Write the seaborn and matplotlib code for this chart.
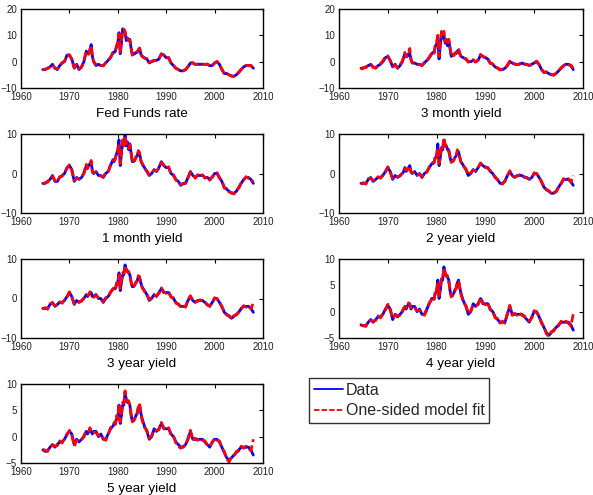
import matplotlib
matplotlib.use("Agg")
import matplotlib.pyplot as plt
import seaborn as sns
import numpy as np

# Time points (years)
years = [1964.5, 1965, 1965.5, 1966, 1966.5, 1967, 1967.5, 1968, 1968.5, 1969, 1969.5, 1970, 1970.5, 1971, 1971.5, 1972, 1972.5, 1973,
         1973.25, 1973.5, 1973.75, 1974, 1974.25, 1974.5, 1974.75, 1975,
         1975.5, 1976, 1976.5, 1977, 1977.5, 1978, 1978.5, 1979,
         1979.25, 1979.5, 1979.75, 1980, 1980.25, 1980.5, 1980.75, 1981, 1981.25, 1981.5, 1981.75, 1982,
         1982.25, 1982.5, 1982.75, 1983, 1983.25, 1983.5, 1983.75, 1984, 1984.25, 1984.5, 1984.75, 1985,
         1985.5, 1986, 1986.5, 1987, 1987.5, 1988, 1988.5, 1989, 1989.5, 1990, 1990.5, 1991, 1991.5, 1992, 1992.5, 1993,
         1993.5, 1994, 1994.5, 1995, 1995.5, 1996, 1996.5, 1997, 1997.5, 1998, 1998.5, 1999, 1999.5, 2000, 2000.5, 2001,
         2001.5, 2002, 2002.5, 2003, 2003.5, 2004, 2004.5, 2005, 2005.5, 2006, 2006.5, 2007, 2007.5, 2008]

fed_data = [-3, -3, -2.5, -2, -1, -2.5, -3, -1.5, -0.5, 0, 2.5, 2.5, 1, -2.5, -1, -3, -2, 0,
            2, 4, 3, 3, 4.5, 6.5, 2, 0,
            -1.5, -1, -1.5, -1.5, -0.5, 0.5, 1.5, 3.5,
            3.5, 4, 6, 7, 11, 3, 7, 12.5, 12, 11.5, 8, 9, 8, 8.5, 5, 2.5, 3, 3, 3.5, 3.5, 4.5, 5, 3, 2,
            1.5, 1, -0.5, 0, 0.5, 0.5, 1, 3, 2.5, 1.5, 1.5, -0.5, -1.5, -2.5, -3, -3.5, -3.5, -3, -2, -0.5, -0.5, -1, -1, -1,
            -1, -1, -1, -1.5, -1.5, -0.5, 0, -1, -3, -4.5, -4.5, -5, -5.5, -5.5, -5, -4, -3, -2, -1.5, -1.5, -1.5, -2.5]
fed_fit = [-3.2, -2.8, -2.6, -1.9, -1.2, -2.4, -2.8, -1.6, -0.4, 0.2, 2.3, 2.6, 0.8, -2.3, -1.2, -2.8, -2.1, 0.3,
           2.3, 3.8, 3.3, 2.8, 4.7, 6.2, 1.7, 0.2,
           -1.3, -1.2, -1.4, -1.6, -0.3, 0.4, 1.7, 3.3,
           3.8, 4.3, 5.7, 7.4, 10.5, 3.5, 7.4, 12.2, 12.3, 11, 8.5, 8.7, 8.3, 8.1, 5.3, 2.7, 2.8, 3.2, 3.3, 3.8, 4.3, 5.2, 2.8, 2.2,
           1.3, 1.2, -0.3, 0.2, 0.3, 0.7, 1.2, 2.8, 2.6, 1.3, 1.6, -0.7, -1.3, -2.6, -2.9, -3.6, -3.4, -3.1, -1.8, -0.6, -0.4, -1.1, -0.9, -1.1,
           -0.9, -1.1, -0.9, -1.6, -1.4, -0.6, 0.1, -1.2, -2.8, -4.6, -4.4, -5.1, -5.4, -5.6, -4.9, -4.1, -2.9, -2.1, -1.4, -1.6, -1.4, -2.6]

m3_data = [-2.5, -2.5, -2, -1.5, -1, -2, -2.5, -1.5, -1, 0, 1.5, 2, 0.5, -2, -1, -2.5, -1.5, 0,
           1.5, 3, 2, 2, 3, 3, 1, -0.5,
           -0.5, -1, -1, -1.5, -0.5, 0.5, 1.5, 3,
           3.5, 3.5, 6, 6.5, 9, 1, 6, 10, 9, 10, 7, 8, 6, 8, 5, 2, 2.5, 2.5, 3, 3, 4, 4.5, 3, 2,
           1.5, 1, 0, 0, 0.5, 0, 0.5, 2.5, 2, 1.5, 1, -0.5, -1, -2, -2.5, -3, -3, -2.5, -1.5, 0, -0.5, -1, -1, -1,
           -0.5, -1, -1, -1.5, -1, -0.5, 0, -1, -3, -4, -4, -4.5, -5, -5, -4.5, -3.5, -2.5, -1.5, -1, -1, -1.5, -3]
m3_fit = [-3, -2.2, -2.3, -1.3, -1.2, -2.2, -2.3, -1.2, -0.8, 0.3, 2, 2.2, 0.3, -1.8, -1.3, -2.4, -1.2, 0.3,
          2, 3.5, 1.8, 2.5, 3.5, 5, 0.8, -0.3,
          -0.7, -0.8, -1.2, -1.3, -0.3, 0.3, 1.7, 3.3,
          3.8, 3.2, 6.5, 7.5, 10, 2, 7, 11.5, 10, 11.5, 7.5, 8.5, 6.5, 8.5, 5.5, 2.2, 2.8, 2.3, 3.3, 3.2, 4.5, 5, 3.2, 1.8,
          1.3, 1.2, -0.2, 0.3, 0.8, -0.2, 0.7, 2.8, 1.8, 1.7, 0.8, -0.7, -0.8, -2.2, -2.3, -3.2, -2.8, -2.7, -1.3, 0.2, -0.7, -0.8, -1.2, -0.8,
          -0.7, -0.8, -1.2, -1.3, -1.2, -0.3, 0.2, -1.2, -2.8, -4.2, -3.8, -4.7, -4.8, -5.2, -4.3, -3.7, -2.3, -1.7, -0.8, -1.2, -1.3, -2.5]

m1_data = [-2.5, -2.5, -2, -1.5, -0.5, -2, -2, -1, -0.5, 0, 1.5, 2, 1, -2, -1, -1.5, -1, 0,
           1, 2, 1.5, 2, 2.5, 3, 0.5, 0,
           0.5, -0.5, -0.5, -1, 0, 0.5, 2, 3.5,
           3, 4, 5, 6, 8.5, 2, 5, 8, 7.5, 10, 7, 8, 6, 7.5, 5, 3, 3, 3.5, 4, 4.5, 5.5, 5, 3.5, 2.5,
           1.5, 0.5, -0.5, 0, 1, 0.5, 1.5, 3, 2, 1.5, 1.5, 0, -0.5, -1.5, -2, -3, -2.5, -2.5, -1, 0.5, -0.5, -1, -0.5, -0.5,
           -0.5, -1, -1, -1.5, -1, 0, 0, -1, -2, -3.5, -4, -4.5, -5, -5, -4.5, -3.5, -2.5, -1.5, -1, -1, -1.5, -2.5]
m1_fit = [-2.7, -2.3, -2.2, -1.3, -0.7, -1.8, -2.2, -0.8, -0.7, 0.2, 1.3, 2.2, 0.8, -1.8, -1.2, -1.3, -1.2, 0.3,
          1.3, 2.3, 1.2, 2.3, 2.3, 3.3, 0.3, 0.2,
          0.3, -0.3, -0.7, -0.8, 0.2, 0.3, 2.3, 3.2,
          3.3, 3.7, 5.5, 5.5, 7.5, 2.5, 5.5, 8.5, 7, 9.5, 7.5, 7.5, 6.3, 7.2, 5.5, 2.7, 3.3, 3.2, 4.3, 4.2, 5.8, 5.3, 3.2, 2.7,
          1.3, 0.7, -0.3, 0.2, 0.8, 0.7, 1.3, 2.8, 2.2, 1.3, 1.7, -0.2, -0.3, -1.7, -1.8, -2.8, -2.7, -2.3, -1.2, 0.3, -0.3, -1.2, -0.3, -0.7,
          -0.3, -1.2, -0.8, -1.7, -0.8, -0.2, 0.2, -1.2, -1.8, -3.7, -3.8, -4.7, -4.8, -5.2, -4.3, -3.7, -2.3, -1.7, -0.8, -1.2, -1.3, -2.2]

y2_data = [-2.5, -2.5, -2.5, -1.5, -1, -2, -1.5, -1, -1, -0.5, 0.5, 1.5, 0.5, -1.5, -0.5, -1, -0.5, 0,
           0.5, 1.5, 0.5, 1, 1.5, 2, 0.5, 0,
           0.5, -0.5, 0, -1, 0, 0.5, 1.5, 2.5,
           2.5, 3, 4, 4.5, 7.5, 2, 4, 6.5, 6, 8.5, 7, 7, 6, 6, 4, 3, 3, 3.5, 4, 4.5, 5.5, 5.5, 4, 3,
           2, 1, -0.5, 0, 1, 0.5, 1.5, 2.5, 2, 1.5, 1.5, 0.5, 0, -1, -1.5, -2.5, -2.5, -2, -0.5, 0.5, -0.5, -1, -0.5, -0.5,
           -0.5, -1, -1, -1.5, -1, 0, 0, -1, -2, -3.5, -4, -4.5, -5, -5, -4.5, -3.5, -2.5, -1.5, -1.5, -1.5, -2, -3]
y2_fit = [-2.7, -2.3, -2.7, -1.3, -1.2, -1.8, -1.7, -0.8, -1.2, -0.3, 0.3, 1.7, 0.3, -1.3, -0.7, -0.8, -0.7, 0.2,
          0.7, 1.3, 0.8, 0.8, 1.7, 1.8, 0.3, 0.2,
          0.3, -0.3, -0.2, -0.8, 0.2, 0.3, 1.7, 2.3,
          2.8, 2.7, 4.5, 4, 6.5, 2.5, 4.5, 7, 6.5, 9, 7.5, 6.5, 6.5, 5.5, 4.5, 2.8, 3.2, 3.2, 4.3, 4.2, 6, 5.2, 4.2, 2.8,
          1.8, 1.2, -0.3, 0.2, 0.8, 0.7, 1.3, 2.7, 1.8, 1.7, 1.3, 0.7, -0.2, -0.8, -1.7, -2.3, -2.7, -1.8, -0.7, 0.7, -0.7, -0.8, -0.7, -0.3,
          -0.7, -0.8, -1.2, -1.3, -1.2, 0.2, -0.2, -0.8, -2.2, -3.3, -4.2, -4.3, -5.2, -4.8, -4.7, -3.3, -2.7, -1.3, -1.7, -1.3, -2.2, -0.5]

y3_data = [-2.5, -2.5, -2.5, -1.5, -1, -2, -1.5, -1, -1, -0.5, 0.5, 1.5, 0.5, -1.5, -0.5, -1, -0.5, 0,
           0.5, 1, 0.5, 1, 1.5, 1.5, 0.5, 0.5,
           1, 0, 0, -1, 0, 0.5, 1.5, 2.5,
           2.5, 2.5, 3.5, 4, 6.5, 2, 4, 6, 6, 8.5, 7, 7, 6.5, 6, 4, 3, 3, 3.5, 4, 4.5, 5.5, 5.5, 4, 3,
           2, 1, -0.5, 0, 1, 0.5, 1.5, 2.5, 1.5, 1.5, 1.5, 0.5, 0, -1, -1.5, -2, -2, -2, -0.5, 0.5, -0.5, -1, -0.5, -0.5,
           -0.5, -1, -1.5, -2, -1, 0, 0, -1, -2, -3.5, -4, -4.5, -5, -4.5, -4, -3.5, -2.5, -2, -2, -2, -2.5, -3.5]
y3_fit = [-2.7, -2.3, -2.7, -1.3, -1.2, -1.8, -1.7, -0.8, -1.2, -0.3, 0.3, 1.7, 0.3, -1.3, -0.7, -0.8, -0.7, 0.2,
          0.7, 0.8, 0.8, 0.8, 1.7, 1.3, 0.7, 0.3,
          0.8, 0.2, -0.2, -0.8, 0.2, 0.3, 1.7, 2.3,
          2.7, 2.3, 4, 3.7, 6, 2.5, 4.5, 6.5, 6.3, 8.3, 7.5, 6.7, 6.8, 5.7, 4.3, 2.8, 3.2, 3.3, 4.2, 4.3, 5.8, 5.2, 4.2, 2.8,
          1.8, 1.2, -0.3, 0.2, 0.8, 0.7, 1.3, 2.7, 1.7, 1.3, 1.7, 0.3, 0.2, -1.2, -1.3, -2.2, -1.8, -2.2, -0.3, 0.7, -0.7, -0.8, -0.7, -0.3,
          -0.7, -0.8, -1.7, -1.8, -1.2, 0.2, -0.2, -0.8, -2.2, -3.3, -4.2, -4.3, -5.2, -4.3, -4.2, -3.3, -2.7, -1.8, -2.2, -1.8, -2.7, -1]

y4_data = [-2.5, -2.7, -2.7, -2, -1.5, -2, -1.5, -1, -1, -0.5, 0.5, 1.2, 0.5, -1.5, -0.5, -1, -0.5, 0,
           0.5, 1, 0.5, 1, 1.5, 1.5, 0.5, 1,
           1, 0, 0.5, -0.5, -0.5, 0.5, 1.5, 2.5,
           2.5, 2.5, 3.5, 4, 6, 2.5, 4, 6, 6, 8.5, 7, 7, 6.5, 6, 4, 3, 3, 3.5, 4, 4.5, 5.5, 6, 4.5, 3.5,
           2, 1, -0.5, 0, 1.5, 1, 1.5, 2.5, 1.5, 1.5, 1.5, 0.5, 0, -1, -1.5, -2, -2, -2, -0.5, 1, -0.5, -0.5, -0.5, -0.5,
           -0.5, -1, -1.5, -2, -1, 0, 0, -1, -2, -3, -4, -4.5, -4, -3.5, -3, -2.5, -2, -2, -2, -2, -2.5, -3.5]
y4_fit = [-2.6, -2.6, -2.8, -1.8, -1.7, -1.8, -1.7, -0.8, -1.2, -0.3, 0.3, 1.4, 0.3, -1.3, -0.7, -0.8, -0.7, 0.2,
          0.7, 0.8, 0.8, 0.8, 1.7, 1.3, 0.7, 0.8,
          0.8, 0.2, 0.3, -0.3, -0.7, 0.3, 1.7, 2.3,
          2.7, 2.3, 4, 3.7, 5.7, 3, 4.5, 6.5, 6.3, 8.2, 7.5, 6.7, 6.8, 5.7, 4.3, 2.8, 3.2, 3.3, 4.2, 4.3, 5.8, 5.7, 4.7, 3.2,
          1.8, 1.2, -0.3, 0.2, 1.3, 1.2, 1.3, 2.7, 1.7, 1.3, 1.7, 0.3, 0.2, -1.2, -1.3, -2.2, -1.8, -2.2, -0.3, 1.2, -0.7, -0.3, -0.7, -0.3,
          -0.7, -0.8, -1.7, -1.8, -1.2, 0.2, -0.2, -0.8, -2.2, -2.8, -4.2, -4.7, -3.8, -3.7, -2.8, -2.7, -1.8, -2.2, -1.8, -2.2, -2.7, -0.5]

y5_data = [-2.5, -2.8, -2.7, -2, -1.5, -2, -1.5, -1, -1, -0.5, 0.5, 1, 0.5, -1.5, -0.5, -1, -0.5, 0,
           0.5, 1, 0.5, 1, 1.5, 1, 0.5, 1,
           1, 0, 0.5, -0.5, -0.5, 0.5, 1.5, 2,
           2.5, 2.5, 3.5, 3.5, 6, 2.5, 4, 6, 6, 8.5, 7, 6.5, 6.5, 6, 4, 3, 3, 3.5, 4, 4.5, 5.5, 6, 4.5, 3.5,
           2, 1, -0.5, 0, 1.5, 1, 1.5, 2.5, 1.5, 1.5, 1.5, 0.5, 0, -1, -1.5, -2, -2, -1.5, -0.5, 1, -0.5, -0.5, -0.5, -0.5,
           -0.5, -1, -1.5, -2, -1, -0.5, -0.5, -1, -2, -3, -4, -4.5, -4, -3.5, -3, -2.5, -2, -2, -2, -2, -2.5, -3.5]
y5_fit = [-2.4, -2.6, -2.8, -1.8, -1.7, -1.8, -1.7, -0.8, -1.2, -0.3, 0.3, 1.2, 0.3, -1.8, -0.7, -0.8, -0.7, 0.2,
          0.7, 0.8, 0.8, 0.8, 1.7, 0.8, 0.7, 0.8,
          0.8, 0.2, 0.3, -0.3, -0.7, 0.3, 1.7, 2.2,
          2.7, 2.3, 4, 3.3, 6.3, 2.8, 4.5, 6.5, 6.3, 8.7, 7.3, 6.7, 6.8, 5.7, 4.3, 2.8, 3.2, 3.3, 4.2, 4.3, 5.8, 6.3, 4.7, 3.2,
          1.8, 1.2, -0.3, 0.2, 1.3, 1.2, 1.3, 2.7, 1.7, 1.3, 1.7, 0.3, 0.2, -1.2, -1.8, -2.2, -1.8, -1.7, -0.3, 1.2, -0.7, -0.3, -0.7, -0.3,
          -0.7, -0.8, -1.7, -1.8, -1.2, -0.3, -0.7, -0.8, -2.2, -2.8, -4.2, -4.8, -3.8, -3.7, -2.8, -2.7, -1.8, -2.2, -1.8, -2.2, -2.7, -0.5]

titles = ["Fed Funds rate", "3 month yield", "1 month yield", "2 year yield",
          "3 year yield", "4 year yield", "5 year yield"]
data_series = [fed_data, m3_data, m1_data, y2_data, y3_data, y4_data, y5_data]
fit_series = [fed_fit, m3_fit, m1_fit, y2_fit, y3_fit, y4_fit, y5_fit]
y_ranges = [(-10, 20), (-10, 20), (-10, 10), (-10, 10), (-10, 10), (-5, 10), (-5, 10)]
y_ticks = [[-10, 0, 10, 20], [-10, 0, 10, 20], [-10, 0, 10], [-10, 0, 10],
           [-10, 0, 10], [-5, 0, 5, 10], [-5, 0, 5, 10]]
x_ticks = [1960, 1970, 1980, 1990, 2000, 2010]
legend_labels = ["Data", "One-sided model fit"]

sns.set_theme(style="white")
plt.rcParams["font.family"] = ["Liberation Sans", "DejaVu Sans"]
plt.rcParams.update({
    "xtick.direction": "in", "ytick.direction": "in",
    "xtick.top": True, "ytick.right": True,
    "xtick.major.size": 3, "ytick.major.size": 3,
    "xtick.major.width": 0.8, "ytick.major.width": 0.8,
    "xtick.color": "black", "ytick.color": "black",
    "xtick.labelcolor": "#222222", "ytick.labelcolor": "#222222",
    "axes.edgecolor": "black", "axes.linewidth": 1.0,
})

W, H = 593, 495
fig = plt.figure(figsize=(W / 100, H / 100), dpi=100)

lefts = [21, 339]
widths = [242, 244]
tops = [9, 134, 259, 384]
ax_h = 79

for i, (title, d, f) in enumerate(zip(titles, data_series, fit_series)):
    r, c = divmod(i, 2)
    x0 = lefts[c] / W
    y0 = 1 - (tops[r] + ax_h) / H
    ax = fig.add_axes([x0, y0, widths[c] / W, ax_h / H])
    sns.lineplot(x=years, y=d, ax=ax, color="blue", linewidth=2.0, label=legend_labels[0], legend=False)
    sns.lineplot(x=years, y=f, ax=ax, color="red", linewidth=2.0, linestyle="--", dashes=False,
                 label=legend_labels[1], legend=False)
    ax.lines[1].set_linestyle((0, (3, 1.2)))
    ax.set_xlim(1960, 2010)
    ax.set_ylim(*y_ranges[i])
    ax.set_xticks(x_ticks)
    ax.set_yticks(y_ticks[i])
    ax.tick_params(labelsize=7, pad=3)
    ax.set_xlabel(title, fontsize=9.7, labelpad=4.5, color="black")
    ax.set_ylabel("")
    for s in ax.spines.values():
        s.set_visible(True)
        s.set_color("black")
    if i == 0:
        handles = ax.lines[:2]

leg = fig.legend(handles, legend_labels, loc="upper left",
                 bbox_to_anchor=(309 / W, 1 - 378 / H), bbox_transform=fig.transFigure,
                 fontsize=11.5, frameon=True, fancybox=False, edgecolor="black",
                 handlelength=1.8, handletextpad=0.2, borderpad=0.3, labelspacing=0.35,
                 borderaxespad=0)
leg.get_frame().set_linewidth(1.0)
for h in leg.get_lines():
    h.set_linewidth(1.3)

fig.savefig("out.png", dpi=100)
